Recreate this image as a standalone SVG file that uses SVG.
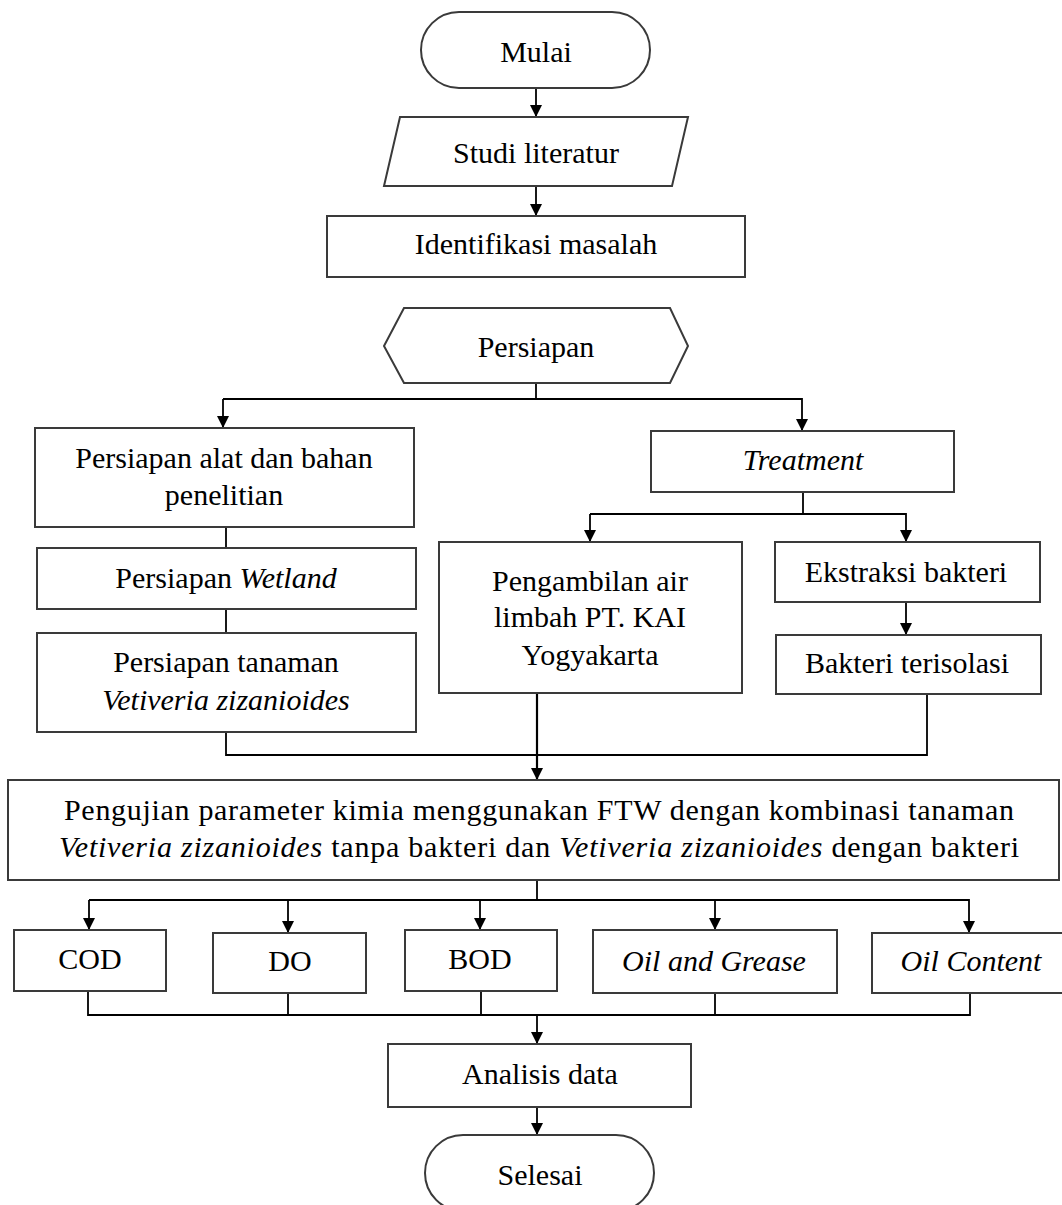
<svg xmlns="http://www.w3.org/2000/svg" width="1062" height="1205" viewBox="0 0 1062 1205">
<style>
.box{fill:#fff;stroke:#3a3a3a;stroke-width:2}
.t{font-family:"Liberation Serif","Times New Roman",serif;font-size:30px;fill:#000;text-anchor:middle}
.i{font-style:italic}
.c{fill:none;stroke:#000;stroke-width:1.8}
</style>
<defs>
<marker id="arr" viewBox="0 0 10 10" refX="10" refY="5" markerWidth="13" markerHeight="12" markerUnits="userSpaceOnUse" orient="auto">
<path d="M0,0 L10,5 L0,10 z" fill="#000"/>
</marker>
</defs>
<rect width="1062" height="1205" fill="#fff"/>
<g id="connectors">
<line class="c" x1="536" y1="88" x2="536" y2="117" marker-end="url(#arr)"/>
<line class="c" x1="536" y1="186" x2="536" y2="216" marker-end="url(#arr)"/>
<polyline class="c" points="536,383 536,399"/>
<polyline class="c" points="223,399 802,399 802,431" marker-end="url(#arr)"/>
<line class="c" x1="223" y1="399" x2="223" y2="428" marker-end="url(#arr)"/>
<line class="c" x1="226" y1="527" x2="226" y2="548"/>
<line class="c" x1="226" y1="609" x2="226" y2="633"/>
<polyline class="c" points="803,492 803,514"/>
<polyline class="c" points="590,514 906,514 906,542" marker-end="url(#arr)"/>
<line class="c" x1="590" y1="514" x2="590" y2="542" marker-end="url(#arr)"/>
<line class="c" x1="906" y1="602" x2="906" y2="635" marker-end="url(#arr)"/>
<polyline class="c" points="226,732 226,755 927,755 927,694"/>
<line class="c" x1="537" y1="693" x2="537" y2="780" marker-end="url(#arr)" style="stroke-width:2.2"/>
<line class="c" x1="537" y1="880" x2="537" y2="900"/>
<polyline class="c" points="89,900 969,900 969,933" marker-end="url(#arr)"/>
<line class="c" x1="89" y1="900" x2="89" y2="930" marker-end="url(#arr)"/>
<line class="c" x1="288" y1="900" x2="288" y2="933" marker-end="url(#arr)"/>
<line class="c" x1="480" y1="900" x2="480" y2="930" marker-end="url(#arr)"/>
<line class="c" x1="715" y1="900" x2="715" y2="930" marker-end="url(#arr)"/>
<polyline class="c" points="88,991 88,1015 970,1015 970,993"/>
<line class="c" x1="288" y1="993" x2="288" y2="1015"/>
<line class="c" x1="481" y1="991" x2="481" y2="1015"/>
<line class="c" x1="715" y1="993" x2="715" y2="1015"/>
<line class="c" x1="537" y1="1015" x2="537" y2="1044" marker-end="url(#arr)"/>
<line class="c" x1="537" y1="1107" x2="537" y2="1135" marker-end="url(#arr)"/>
</g>
<g id="mulai">
<rect class="box" x="421" y="12" width="229" height="76" rx="38" ry="38"/>
<text class="t" x="536" y="62">Mulai</text>
</g>
<g id="studi">
<polygon class="box" points="400,117 688,117 672,186 384,186"/>
<text class="t" x="536" y="163">Studi literatur</text>
</g>
<g id="identifikasi">
<rect class="box" x="327" y="216" width="418" height="61"/>
<text class="t" x="536" y="254">Identifikasi masalah</text>
</g>
<g id="persiapan">
<polygon class="box" points="384,346 404,308 670,308 688,346 670,383 404,383"/>
<text class="t" x="536" y="357">Persiapan</text>
</g>
<g id="alat">
<rect class="box" x="35" y="428" width="379" height="99"/>
<text class="t" x="224" y="468">Persiapan alat dan bahan</text>
<text class="t" x="224" y="505">penelitian</text>
</g>
<g id="wetland">
<rect class="box" x="37" y="548" width="379" height="61"/>
<text class="t" x="226" y="588">Persiapan <tspan class="i">Wetland</tspan></text>
</g>
<g id="tanaman">
<rect class="box" x="37" y="633" width="379" height="99"/>
<text class="t" x="226" y="672">Persiapan tanaman</text>
<text class="t i" x="226" y="710">Vetiveria zizanioides</text>
</g>
<g id="treatment">
<rect class="box" x="651" y="431" width="303" height="61"/>
<text class="t i" x="803" y="470">Treatment</text>
</g>
<g id="pengambilan">
<rect class="box" x="439" y="542" width="303" height="151"/>
<text class="t" x="590" y="591">Pengambilan air</text>
<text class="t" x="590" y="627">limbah PT. KAI</text>
<text class="t" x="590" y="665">Yogyakarta</text>
</g>
<g id="ekstraksi">
<rect class="box" x="775" y="542" width="265" height="60"/>
<text class="t" x="906" y="582">Ekstraksi bakteri</text>
</g>
<g id="terisolasi">
<rect class="box" x="776" y="635" width="265" height="59"/>
<text class="t" x="907" y="673">Bakteri terisolasi</text>
</g>
<g id="pengujian">
<rect class="box" x="8" y="780" width="1051" height="100"/>
<text class="t" x="539" y="820" textLength="950" lengthAdjust="spacing">Pengujian parameter kimia menggunakan FTW dengan kombinasi tanaman</text>
<text class="t" x="539" y="857" textLength="960" lengthAdjust="spacing"><tspan class="i">Vetiveria zizanioides</tspan> tanpa bakteri dan <tspan class="i">Vetiveria zizanioides</tspan> dengan bakteri</text>
</g>
<g id="cod">
<rect class="box" x="14" y="930" width="152" height="61"/>
<text class="t" x="90" y="969">COD</text>
</g>
<g id="do">
<rect class="box" x="213" y="933" width="153" height="60"/>
<text class="t" x="290" y="971">DO</text>
</g>
<g id="bod">
<rect class="box" x="405" y="930" width="152" height="61"/>
<text class="t" x="480" y="969">BOD</text>
</g>
<g id="oilgrease">
<rect class="box" x="593" y="930" width="244" height="63"/>
<text class="t i" x="714" y="971">Oil and Grease</text>
</g>
<g id="oilcontent">
<rect class="box" x="872" y="933" width="192" height="60"/>
<text class="t i" x="971" y="971">Oil Content</text>
</g>
<g id="analisis">
<rect class="box" x="388" y="1044" width="303" height="63"/>
<text class="t" x="540" y="1084">Analisis data</text>
</g>
<g id="selesai">
<rect class="box" x="425" y="1135" width="229" height="76" rx="38" ry="38"/>
<text class="t" x="540" y="1185">Selesai</text>
</g>
</svg>
